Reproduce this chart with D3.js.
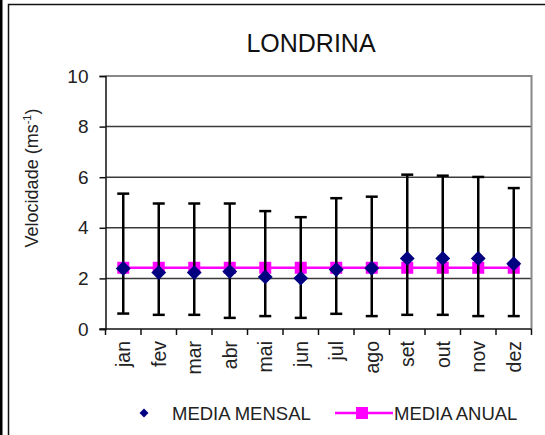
<!DOCTYPE html>
<html>
<head>
<meta charset="utf-8">
<script src="https://cdn.jsdelivr.net/npm/d3@7"></script>
<style>
  html, body { margin: 0; padding: 0; background: #fff; }
  svg { display: block; font-family: "Liberation Sans", Arial, sans-serif; }
</style>
</head>
<body>
<svg id="chart" width="545" height="435"></svg>
<script>
// Monthly wind speed at Londrina (m/s)
const months = ["jan", "fev", "mar", "abr", "mai", "jun", "jul", "ago", "set", "out", "nov", "dez"];
const mediaMensal = [2.39, 2.23, 2.23, 2.27, 2.06, 2.01, 2.35, 2.40, 2.79, 2.79, 2.79, 2.58];
const maximo = [5.35, 4.96, 4.96, 4.96, 4.66, 4.42, 5.17, 5.23, 6.10, 6.06, 6.01, 5.57];
const minimo = [0.61, 0.56, 0.56, 0.44, 0.51, 0.44, 0.60, 0.51, 0.56, 0.56, 0.51, 0.51];
const mediaAnual = [2.42, 2.42, 2.42, 2.42, 2.42, 2.42, 2.42, 2.42, 2.42, 2.42, 2.42, 2.42];
const yTicks = [0, 2, 4, 6, 8, 10];

const svg = d3.select("#chart");
const plot = { left: 105.5, right: 531.5, top: 76, bottom: 329 };

const x = d3.scaleBand().domain(months).range([plot.left, plot.right]);
const y = d3.scaleLinear().domain([0, 10]).range([plot.bottom, plot.top]);
const cx = m => x(m) + x.bandwidth() / 2;

// outer frame
svg.append("rect").attr("x", 0).attr("y", 0).attr("width", 2.5).attr("height", 435).attr("fill", "#000");
svg.append("path").attr("d", "M8.5,435V4.5H545").attr("fill", "none").attr("stroke", "#111").attr("stroke-width", 1.5);

// title
svg.append("text").attr("x", 311).attr("y", 52).attr("text-anchor", "middle")
  .attr("font-size", 25).attr("fill", "#111").text("LONDRINA");

// gridlines
svg.append("g").selectAll("line").data(yTicks.filter(t => t > 0 && t < 10)).join("line")
  .attr("x1", plot.left).attr("x2", plot.right)
  .attr("y1", d => y(d)).attr("y2", d => y(d))
  .attr("stroke", "#3a3a3a").attr("stroke-width", 1.5);

// plot area border (top/right)
svg.append("path")
  .attr("d", `M${plot.left},${plot.top}H${plot.right}V${plot.bottom}`)
  .attr("fill", "none").attr("stroke", "#888").attr("stroke-width", 2);

// y axis
const yAxis = svg.append("g").attr("transform", `translate(${plot.left},0)`)
  .call(d3.axisLeft(y).tickValues(yTicks).tickSize(6).tickPadding(11).tickFormat(d3.format("d")));
yAxis.select(".domain").attr("stroke", "#111").attr("stroke-width", 1.5);
yAxis.selectAll(".tick line").attr("stroke", "#111").attr("stroke-width", 1.5);
yAxis.selectAll("text").attr("font-size", 19).attr("fill", "#222")
  .attr("font-family", "Liberation Sans, Arial, sans-serif");

// x axis
const xAxis = svg.append("g").attr("transform", `translate(0,${plot.bottom})`)
  .call(d3.axisBottom(x).tickSize(0).tickPadding(0));
xAxis.select(".domain").remove();
xAxis.selectAll(".tick text").remove();
svg.append("line").attr("x1", plot.left - 6).attr("x2", plot.right)
  .attr("y1", plot.bottom).attr("y2", plot.bottom).attr("stroke", "#111").attr("stroke-width", 1.5);
const edges = months.map(m => x(m)).concat([plot.right]);
svg.append("g").selectAll("line").data(edges).join("line")
  .attr("x1", d => d).attr("x2", d => d)
  .attr("y1", plot.bottom).attr("y2", plot.bottom + 6)
  .attr("stroke", "#111").attr("stroke-width", 1.5);
svg.append("g").selectAll("text").data(months).join("text")
  .attr("transform", m => `translate(${cx(m) + 7},${plot.bottom + 12}) rotate(-90)`)
  .attr("text-anchor", "end").attr("font-size", 19.5).attr("fill", "#222")
  .text(m => m);

// y axis title
const yTitle = svg.append("text")
  .attr("transform", "translate(38,178) rotate(-90)")
  .attr("text-anchor", "middle").attr("font-size", 18).attr("fill", "#222");
yTitle.append("tspan").text("Velocidade (ms");
yTitle.append("tspan").attr("font-size", 11).attr("dy", -7).text("-1");
yTitle.append("tspan").attr("dy", 7).text(")");

// annual mean line and markers
const line = d3.line().x((d, i) => cx(months[i])).y(d => y(d));
svg.append("path").datum(mediaAnual).attr("d", line)
  .attr("fill", "none").attr("stroke", "#ff00ff").attr("stroke-width", 2.5);
svg.append("g").selectAll("rect").data(mediaAnual).join("rect")
  .attr("x", (d, i) => cx(months[i]) - 6).attr("y", d => y(d) - 6)
  .attr("width", 12).attr("height", 12).attr("fill", "#ff00ff");

// error bars (min-max)
const bars = svg.append("g").attr("stroke", "#000").attr("stroke-width", 2.5).attr("fill", "none");
months.forEach((m, i) => {
  const c = cx(m);
  bars.append("line").attr("x1", c).attr("x2", c).attr("y1", y(maximo[i])).attr("y2", y(minimo[i]));
  bars.append("line").attr("x1", c - 6).attr("x2", c + 6).attr("y1", y(maximo[i])).attr("y2", y(maximo[i]));
  bars.append("line").attr("x1", c - 6).attr("x2", c + 6).attr("y1", y(minimo[i])).attr("y2", y(minimo[i]));
});

// monthly mean diamonds
const diamond = d3.symbol().type(d3.symbolSquare).size(110);
svg.append("g").selectAll("path").data(mediaMensal).join("path")
  .attr("d", diamond)
  .attr("transform", (d, i) => `translate(${cx(months[i])},${y(d)}) rotate(45)`)
  .attr("fill", "#000080");

// legend
const ly = 413;
svg.append("path").attr("d", d3.symbol().type(d3.symbolSquare).size(40))
  .attr("transform", `translate(144,${ly}) rotate(45)`).attr("fill", "#000080");
svg.append("text").attr("x", 172).attr("y", ly + 6.5).attr("font-size", 18.5).attr("fill", "#222").text("MEDIA MENSAL");
svg.append("line").attr("x1", 335).attr("x2", 393).attr("y1", ly).attr("y2", ly)
  .attr("stroke", "#ff00ff").attr("stroke-width", 2.5);
svg.append("rect").attr("x", 356).attr("y", ly - 6).attr("width", 12).attr("height", 12).attr("fill", "#ff00ff");
svg.append("text").attr("x", 394).attr("y", ly + 6.5).attr("font-size", 18.5).attr("fill", "#222").text("MEDIA ANUAL");
</script>
</body>
</html>
